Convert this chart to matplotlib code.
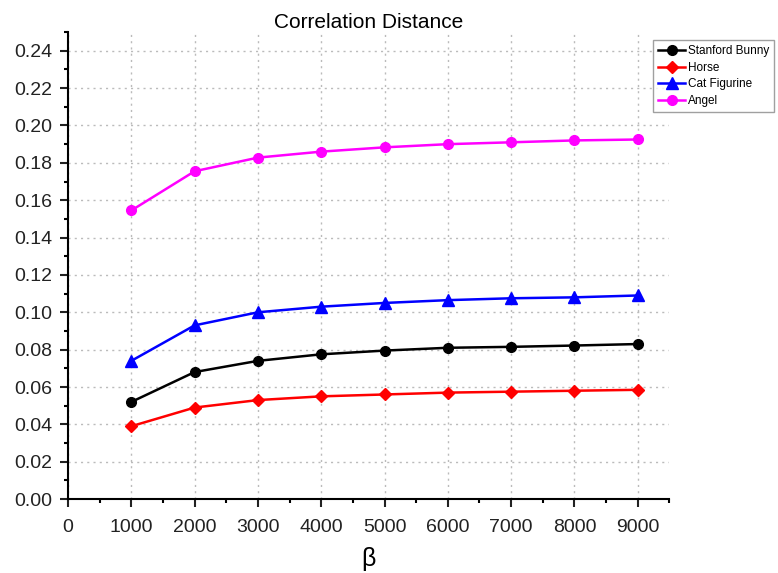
import matplotlib
matplotlib.use("Agg")
import matplotlib.pyplot as plt
from matplotlib.ticker import MultipleLocator

beta = [1000, 2000, 3000, 4000, 5000, 6000, 7000, 8000, 9000]
bunny = [0.052, 0.068, 0.074, 0.0775, 0.0795, 0.081, 0.0815, 0.0822, 0.083]
horse = [0.039, 0.049, 0.053, 0.055, 0.056, 0.057, 0.0575, 0.058, 0.0585]
cat = [0.074, 0.093, 0.100, 0.103, 0.105, 0.1065, 0.1075, 0.108, 0.109]
angel = [0.1545, 0.1755, 0.1828, 0.186, 0.1883, 0.190, 0.191, 0.192, 0.1925]

plt.rcParams['font.family'] = ['Liberation Sans', 'DejaVu Sans']

fig = plt.figure(figsize=(7.78, 5.73), dpi=100)
ax = fig.add_axes([0.0874, 0.129, 0.773, 0.815])

ax.plot(beta, bunny, color='black', marker='o', markersize=7, lw=1.8, label='Stanford Bunny')
ax.plot(beta, horse, color='red', marker='D', markersize=6.5, lw=1.8, label='Horse')
ax.plot(beta, cat, color='blue', marker='^', markersize=8, lw=1.8, label='Cat Figurine')
ax.plot(beta, angel, color='magenta', marker='o', markersize=7, lw=1.8, label='Angel')

ax.set_xlim(0, 9500)
ax.set_ylim(0, 0.25)
ax.xaxis.set_major_locator(MultipleLocator(1000))
ax.xaxis.set_minor_locator(MultipleLocator(500))
ax.yaxis.set_minor_locator(MultipleLocator(0.01))
ax.set_yticks([0.0, 0.02, 0.04, 0.06, 0.08, 0.10, 0.12, 0.14, 0.16, 0.18, 0.20, 0.22, 0.24])
ax.yaxis.set_major_formatter(plt.FormatStrFormatter('%.2f'))

for s in ['top', 'right']:
    ax.spines[s].set_visible(False)
for s in ['left', 'bottom']:
    ax.spines[s].set_linewidth(1.5)
ax.tick_params(which='major', direction='out', length=6, width=1.5, labelsize=14,
               colors='#222222', pad=5)
ax.tick_params(axis='x', which='major', pad=8)
ax.tick_params(which='minor', direction='out', length=3, width=1.5)
ax.grid(True, which='major', linestyle=(0, (1.5, 3)), color='#bbbbbb', lw=1)

ax.set_title('Correlation Distance', fontsize=15, pad=2)
ax.set_xlabel('β', fontsize=18, labelpad=8)

fig.legend(loc='upper right', bbox_to_anchor=(0.998, 0.935), fontsize=8.5,
           frameon=True, fancybox=False, edgecolor='#888888', handlelength=2.3,
           borderpad=0.45, labelspacing=0.4, handletextpad=0.2, borderaxespad=0.2)

fig.savefig('out.png', dpi=100)
